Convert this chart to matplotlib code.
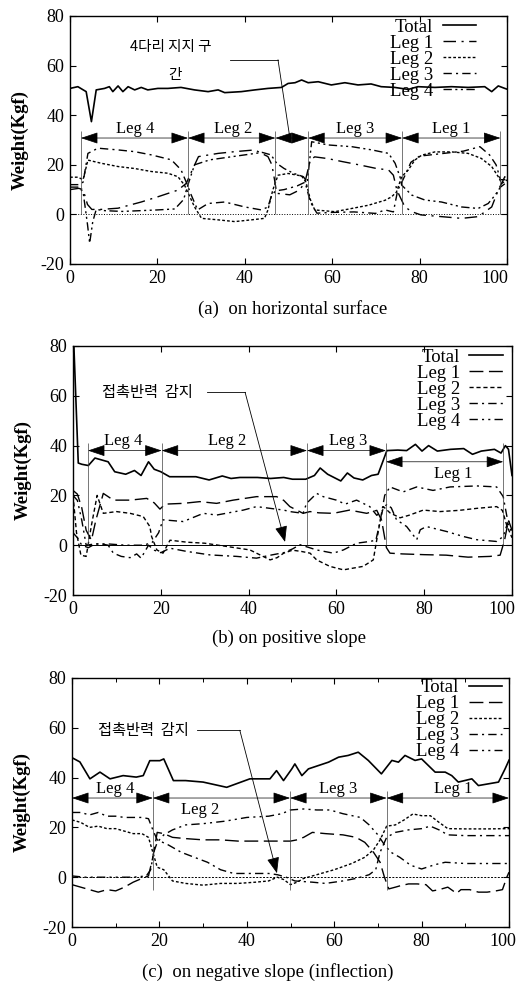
import matplotlib
matplotlib.use('Agg')
import matplotlib.pyplot as plt
from matplotlib.ticker import MultipleLocator
from matplotlib.transforms import ScaledTranslation

plt.rcParams['font.family'] = ['Liberation Serif', 'DejaVu Serif']
plt.rcParams['axes.unicode_minus'] = False
KR = ['Noto Sans CJK KR', 'DejaVu Sans']

# ---------------- (a) on horizontal surface ----------------
a_total_x = [0, 1.8, 3.7, 4.9, 6, 7.9, 9, 9.8, 11, 12.1, 13.3, 14.8, 16.3, 17.8, 20.1, 22.4, 25.4, 28.5,
             31.6, 33.9, 35.4, 39.2, 42.3, 45.3, 48.4, 49.9, 51.5, 53, 54.5, 56.8, 59.8, 62.9, 65.9,
             68.9, 71.2, 74.3, 77.4, 79.6, 83.5, 87.3, 91.1, 94.9, 96.5, 98, 99.5, 100]
a_total_y = [50.8, 51.5, 49.5, 37.4, 50.2, 50.8, 51.5, 49.5, 51.8, 49.5, 51.5, 50.2, 51.2, 50.2, 50.8,
             50.8, 51.2, 50.2, 49.5, 50.2, 49.1, 49.5, 50.2, 50.8, 51.2, 52.8, 53.1, 54.2, 53.1, 53.5,
             52.2, 53.1, 52.2, 52.6, 51.5, 51.2, 50.4, 51.5, 51.2, 51.5, 51.2, 51.5, 49.5, 51.8, 50.8, 50.5]
a_leg1_x = [0, 2, 3, 4, 5, 7, 11, 16.3, 20.1, 24.7, 26.6, 28, 29.4, 33.9, 37.7, 42.3, 45.3, 46.2, 46.8,
            47.3, 50.3, 52.6, 53.8, 55, 56, 59, 62.3, 66.1, 69.9, 72.9, 74, 74.8, 76.6, 78.2, 80.3, 85,
            89.6, 93.4, 96.5, 98, 99.5, 100]
a_leg1_y = [10, 10.5, 10, 4, 2, 2, 2.5, 5, 7.1, 9.8, 12.5, 18, 23.3, 24.6, 25.3, 26, 23.3, 20, 14, 8.5,
            7.9, 9.9, 13.2, 22, 23.2, 22.5, 21.3, 20, 18.6, 17.9, 15.8, 9.8, 3.1, 1.1, -0.2, -0.9, -1.6,
            -0.9, 3, 9.8, 15.2, 13]
a_leg2_x = [0, 1.8, 3, 4.1, 7.2, 11, 14.8, 18.6, 22.4, 24.7, 26.2, 28.5, 30.1, 33.9, 37.7, 41.5, 44.5,
            45.3, 46.4, 47.6, 49.9, 53, 54, 55, 56, 60.6, 64.5, 68.3, 72.1, 73.6, 74.7, 75.9, 77.4, 78.9,
            80.5, 83.5, 87.3, 91.1, 94.1, 96.5, 98, 98.8, 100]
a_leg2_y = [15, 15, 14, 21.9, 20.6, 19.3, 18.5, 17.3, 16.6, 15.2, 11.8, 3, -1.6, -2.2, -2.9, -2.2, -1.6,
            1.8, 9.8, 15.8, 16.5, 15.5, 13, 6, 1.8, 1.1, 2.4, 3.7, 5.7, 7.1, 9, 15.2, 17.9, 21.9, 23.9,
            25.2, 25.2, 24.6, 22.6, 19.3, 15.2, 12.5, 13.9]
a_leg3_x = [0, 2, 3, 4.1, 6.4, 11, 14.8, 18.6, 23.2, 25.4, 26.6, 27.7, 29.2, 31.6, 35.4, 40, 43.8, 45.3,
            46, 47, 49, 52, 53.8, 55, 56.5, 60, 65, 69.9, 72.1, 74, 75, 75.8, 77, 78, 80, 85, 90, 93.8,
            96, 97.5, 98.5, 100]
a_leg3_y = [12, 12, 13, 24.6, 26.7, 26, 25.3, 24, 22, 18, 13, 8, 1.8, 4.4, 5, 3, 1.8, 3, 7, 9.5, 10,
            11.5, 13, 5, 0.5, 0.8, 1, 0.4, 1.8, 1, 9.8, 12.5, 17, 21, 23.5, 24.5, 25.5, 27.3, 24, 20, 14, 14]
a_leg4_x = [0, 2, 3, 4, 4.5, 5.2, 6, 8, 12, 16, 20, 24, 26, 27, 28.5, 32, 36, 40, 44, 46, 47.3, 49, 51.1,
            53.4, 54.3, 55.3, 59.1, 64.5, 69.1, 72.9, 74.4, 75.5, 75.9, 78.2, 81.2, 85, 89.6, 93.4, 95.7,
            97.3, 98.5, 100]
a_leg4_y = [11, 11, 9, -4, -11.6, -3, 2, 1.5, 1.2, 1.5, 1.8, 2.2, 6, 12, 20, 22, 23, 24, 25, 24, 20.6,
            18.5, 16.6, 15.2, 13, 29.3, 28, 27.3, 26, 24.6, 20.6, 15.2, 11.8, 7.8, 5.8, 5, 3, 2.4, 4.4,
            7.8, 11, 13]
a_bounds = [2.5, 27, 47, 54.5, 76, 98.5]
a_seg_labels = ['Leg 4', 'Leg 2', '', 'Leg 3', 'Leg 1']
a_seg_y = [30.8, 30.8, 30.8, 30.8, 30.8]
a_label_x = [14.9, 37.4, 50.7, 65.2, 87.3]
a_label_side = ['above', 'above', 'above', 'above', 'above']

# ---------------- (b) on positive slope ----------------
b_total_x = [0.2, 1.2, 2, 3.5, 5, 7, 8, 9.5, 12, 14, 15.5, 17.2, 18.5, 20, 22, 25, 28, 31, 34, 36, 38,
             42, 45, 48, 50, 53, 55, 56.3, 58, 61, 62.5, 64, 66, 68, 69.5, 71.5, 74, 76, 78, 79.5, 81,
             83, 86, 89, 91, 93, 96, 97.5, 98.5, 99.2, 100]
b_total_y = [80, 33, 32.5, 32, 35, 34, 33.5, 29.5, 28.5, 30, 28, 33.5, 30.5, 29.5, 27.5, 27.5, 27.5,
             26.2, 27.8, 26.8, 27.2, 27.2, 26.8, 27.2, 26.5, 26.5, 28, 31, 28.5, 25.8, 29, 27, 26.2, 28,
             28.5, 38, 38.2, 38, 40.5, 37.8, 40, 37.8, 38.5, 38.8, 36.5, 37.8, 38.5, 37, 40, 38.5, 28]
b_leg1_x = [0, 1, 2, 3, 4.2, 5.2, 6.9, 9.2, 13, 16.8, 18.5, 19.8, 21, 25.1, 28.9, 32.7, 36.5, 41.8, 46.4,
            48, 49.4, 52.4, 54, 56, 59.3, 63, 66.9, 69.2, 70.3, 71.4, 72.2, 75, 80, 85, 90, 95, 97.3,
            98.3, 99.2, 100]
b_leg1_y = [22, 20.5, 15, 6, 2, 10, 20.8, 18.1, 18.1, 18.8, 17, 14.5, 16.5, 16.8, 17.5, 16.8, 18.1,
            19.5, 19.5, 18, 15.5, 12.8, 13.5, 13, 12.8, 14.1, 12.8, 14, 10, -1, -3.2, -3.5, -3.8, -4,
            -4.8, -4.5, -4, 2, 10, 6]
b_leg2_x = [0, 0.8, 1.8, 3, 4.2, 5.5, 6.9, 9.9, 13, 16, 17.5, 17.9, 19.1, 20.5, 22.1, 26, 30, 35, 40.3,
            43.3, 44.9, 46.5, 48, 50, 52, 54, 55.5, 58.5, 61.6, 66.1, 68.4, 69.2, 70, 70.7, 72.2, 74.5,
            76.5, 79.8, 83.6, 88, 92, 96.5, 97.8, 98.8, 100]
b_leg2_y = [20, 5, -4, -4.5, 8, 20, 12.8, 13.5, 12.8, 11.5, 7.5, 3.5, -1.9, -3.2, 2.0, 1.2, 0.8, -0.5,
            -1.9, -4.5, -5.9, -5, -3.2, -2, -2.5, -3.2, -5.9, -8.5, -9.9, -8.5, -5.9, 2.2, 10, 15.5,
            13, 11, 12, 14.1, 13.5, 14, 14.8, 15.5, 14, 8, 3]
b_leg3_x = [0, 1, 2, 3.5, 5, 6.5, 8, 9.2, 11, 13, 14.5, 15.5, 17.2, 18.5, 20, 22.1, 25.9, 31.2, 37.3,
            41.8, 45, 48, 50, 51.7, 55.5, 59.3, 61.6, 64.6, 67.6, 69, 70, 71, 72.2, 75.2, 78.3, 82,
            85.9, 92, 96.5, 98, 99, 100]
b_leg3_y = [5, 3, 0, -1, 0.5, 0.5, 0, -3.2, -4.5, -5, -3.5, -5.2, 0, -2, -3, -1.2, -2.5, -3.9, -4.5,
            -5.2, -4, -3, -1.5, 0.2, -1.9, -3.2, -1.9, 0.8, 1.5, 2, 10, 20, 23.4, 21.4, 23.4, 22, 23.4,
            23.8, 23.4, 19.5, 10, 8]
b_leg4_x = [0, 1, 2, 3, 5, 8, 12, 16, 18, 19.5, 20.5, 25.1, 29.7, 32.7, 38.8, 41.8, 44.9, 48, 49.4,
            52.4, 53.2, 55.5, 57, 60, 62, 64.6, 67.6, 69.2, 70.5, 71.5, 72.5, 73.7, 76, 78.3, 79.1,
            80.5, 85.1, 88.9, 92, 96.5, 98, 99, 100]
b_leg4_y = [20, 18, 10, 0, 0.5, 0.5, 0, 0, 1, 5, 10.2, 9.5, 12.8, 12.1, 14.1, 15.5, 14.8, 14.1, 13.5,
            12.8, 16.8, 20.8, 19.5, 18.1, 16.5, 18.1, 15.5, 12, 14, 16.5, 15, 10.2, 7.5, 2.2, 6.2, 7.5,
            5.5, 3.5, 2.2, 1.5, 3.5, 9, 5]
b_bounds = [3.4, 20.2, 53.3, 71.3, 98]
b_seg_labels = ['Leg 4', 'Leg 2', 'Leg 3', 'Leg 1']
b_seg_y = [38, 38, 38, 33.5]
b_label_x = [11.4, 35.1, 62.7, 86.6]
b_label_side = ['above', 'above', 'above', 'below']

# ---------------- (c) on negative slope (inflection) ----------------
c_total_x = [0, 1.8, 4.1, 6.4, 8.7, 11.7, 14.7, 16.3, 17.8, 20.1, 21, 23.2, 26, 30, 35.4, 40.7, 45.3,
             46.8, 48.4, 50.3, 51, 52.6, 54.1, 58.7, 61, 63.2, 65.5, 67.8, 70.8, 73.2, 74.7, 76.2,
             78.5, 80, 83.1, 85.4, 86.9, 88.4, 91.5, 93, 97.6, 99.1, 100]
c_total_y = [48, 46.3, 39.5, 42.2, 39.5, 40.8, 40.2, 40.8, 46.8, 46.8, 47.5, 38.8, 38.8, 38.2, 36.1,
             39.5, 39.5, 42.8, 38.8, 43.5, 45.5, 40.8, 43.5, 46.2, 48.2, 48.9, 50.2, 46.9, 41.5, 46.9,
             46.2, 48.9, 46.9, 47.5, 42.2, 42.2, 40.8, 38.2, 39.5, 36.8, 38.2, 43.5, 47]
c_leg1_x = [0, 2, 4, 6, 8, 10, 12, 14, 16, 17.5, 18.5, 19.5, 21, 23, 26, 30, 34, 38, 42, 46, 50, 51.5,
            53, 55, 58, 62, 65, 67, 69, 70.5, 71.5, 72.5, 74, 75, 77, 79, 81, 82.5, 84, 86, 88, 89,
            91, 93, 95, 97, 98.5, 99.5, 100]
c_leg1_y = [-3, -4, -5, -6, -5, -5.5, -4, -2, -0.5, 0.5, 8, 18, 17.5, 16, 15.5, 15, 15, 14.5, 14.5,
            14.5, 14.5, 15, 16, 18, 17.5, 17, 16, 14, 10, 6, 0, -4.7, -4, -3.5, -2.7, -2.7, -3, -5.5,
            -5, -4, -6.5, -5, -5, -6, -6, -5.5, -5, 0, 2]
c_leg2_x = [0, 2, 4, 6, 8, 10, 12, 14, 16, 17.5, 18.5, 19.5, 21, 23, 26, 30, 34, 38, 42, 45, 47, 48.5,
            50, 51.5, 53, 56, 60, 64, 67, 69, 70.5, 72, 74, 76, 78, 80, 82, 84, 86, 90, 95, 100]
c_leg2_y = [23, 22, 20, 20.5, 19.5, 19.5, 18.5, 17.5, 17.5, 16, 10, 4, 3, -1.5, -2.5, -3.2, -2.5,
            -2.5, -2, -1.5, 0, -1, -3, -2, -0.5, 1, 3, 5.5, 8, 11, 15, 20.5, 21, 23, 25.4, 24.7, 24.7,
            22, 19.5, 19.4, 19.4, 19.5]
c_leg3_x = [0, 2, 4, 6, 8, 10, 12, 14, 16, 17.5, 18.5, 19.5, 22, 25, 28, 31, 34, 37, 40, 45, 47, 49,
            51, 55, 58, 62, 65, 68, 69.5, 70.5, 72, 74, 77, 80, 82, 84, 86, 90, 95, 100]
c_leg3_y = [26, 26, 25, 26, 24.5, 24.5, 24, 24, 24, 23.5, 19, 15, 13, 10, 8, 6, 3, 1.5, 1.5, 1.5, 1,
            0, -1.5, -2, -2.5, -1.5, -0.5, 1, 3, 10, 16, 18, 19, 19.5, 20.5, 19, 17, 16.7, 16.7, 16.7]
c_leg4_x = [0, 3, 6, 10, 14, 17, 18, 18.7, 19.5, 21, 23, 26, 30, 35, 40, 45, 48, 50, 53, 56, 59, 62,
            66, 68, 70, 71.5, 73, 75, 77.5, 80, 83, 85.4, 90, 95, 100]
c_leg4_y = [0.5, 0, 0, 0, 0, 0.5, 3, 10, 14, 17, 19, 21, 21.5, 22.5, 24, 24.5, 25.5, 27, 27.4, 27, 27,
            25.5, 24, 21, 17, 13, 10, 8, 4.8, 3.3, 5, 6, 5.5, 5.5, 5.5]
c_bounds = [0, 18.5, 49.9, 72, 100]
c_seg_labels = ['Leg 4', 'Leg 2', 'Leg 3', 'Leg 1']
c_seg_y = [31.8, 31.8, 31.8, 31.8]
c_label_x = [9.8, 29.3, 61, 87.3]
c_label_side = ['above', 'below', 'above', 'above']

names = ['Total', 'Leg 1', 'Leg 2', 'Leg 3', 'Leg 4']
x_ticks = [0, 20, 40, 60, 80, 100]
y_ticks = [-20, 0, 20, 40, 60, 80]

styles_a = ['-', (0, (9, 4, 1.5, 4)), (0, (2, 1.5)), (0, (6, 3, 1.5, 3)), (0, (6, 2.5, 1.5, 2.5, 1.5, 2.5))]
styles_b = ['-', (0, (10, 4)), (0, (3, 2)), (0, (6, 3, 1.5, 3)), (0, (6, 3, 1.5, 3, 1.5, 3))]
styles_c = ['-', (0, (10, 4)), (0, (2, 1.5)), (0, (6, 3, 1.5, 3)), (0, (6, 3, 1.5, 3, 1.5, 3))]

fig = plt.figure(figsize=(5.19, 9.82), dpi=100)
ax_a = fig.add_axes([70/519, 1-264/982, 437/519, 248/982])
ax_b = fig.add_axes([73/519, 1-595/982, 439/519, 249/982])
ax_c = fig.add_axes([72/519, 1-927/982, 437/519, 249/982])

ARROW = dict(arrowstyle='<|-|>,head_length=0.9,head_width=0.3', mutation_scale=12,
             lw=0.5, color='k', shrinkA=0, shrinkB=0)


def setup(ax, zero_style):
    ax.set_xlim(0, 100)
    ax.set_ylim(-20, 80)
    ax.set_xticks(x_ticks)
    ax.set_yticks(y_ticks)
    ax.tick_params(direction='in', top=True, right=True, length=4, width=0.8,
                   labelsize=13, pad=4)
    for s in ax.spines.values():
        s.set_linewidth(1.0)
    ax.axhline(0, color='k', lw=0.7, ls=zero_style, zorder=1)
    ax.set_ylabel('Weight(Kgf)', fontsize=13.5, fontweight='bold')
    ax.yaxis.set_label_coords(-0.095, 0.5)


def draw_series(ax, xs, ys, styles, anchor):
    handles = []
    for x, y, st, nm in zip(xs, ys, styles, names):
        h, = ax.plot(x, y, color='k', lw=1.0 if nm != 'Total' else 1.2, ls=st, label=nm)
        handles.append(h)
    ax.legend(handles=handles, loc='upper right', bbox_to_anchor=anchor, frameon=False,
              markerfirst=False, handlelength=1.8, handletextpad=0.5, labelspacing=-0.06,
              borderpad=0, borderaxespad=0, fontsize=13.5)


def draw_bands(ax, bounds, ys, labels, lx, side, vlo):
    for i in range(len(bounds) - 1):
        ax.annotate('', xy=(bounds[i+1], ys[i]), xytext=(bounds[i], ys[i]), arrowprops=ARROW)
        if labels[i]:
            if side[i] == 'above':
                ax.text(lx[i], ys[i] + 0.6, labels[i], ha='center', va='bottom', fontsize=12)
            else:
                ax.text(lx[i], ys[i] - 1.5, labels[i], ha='center', va='top', fontsize=12)
    ax.vlines(bounds, vlo, max(ys) + 3, colors='0.25', lw=0.5)


def leader(ax, px, py, head):
    ax.plot(px[:2], [py[0], py[0]], color='k', lw=0.6)
    if head:
        ax.annotate('', xy=(px[2], py[1]), xytext=(px[1], py[0]),
                    arrowprops=dict(arrowstyle='-|>,head_length=0.9,head_width=0.35',
                                    mutation_scale=11, lw=0.6, color='k', shrinkA=0, shrinkB=0))
    else:
        ax.plot(px[1:], [py[0], py[1]], color='k', lw=0.6)


# panel (a)
setup(ax_a, ':')
draw_series(ax_a, [a_total_x, a_leg1_x, a_leg2_x, a_leg3_x, a_leg4_x],
            [a_total_y, a_leg1_y, a_leg2_y, a_leg3_y, a_leg4_y], styles_a, (0.93, 0.99))
draw_bands(ax_a, a_bounds, a_seg_y, a_seg_labels, a_label_x, a_label_side, 0)
ax_a.text(23.1, 67.6, '4다리 지지 구', family=KR, fontsize=10.5, ha='center', va='center')
ax_a.text(24.0, 56.2, '간', family=KR, fontsize=10.5, ha='center', va='center')
leader(ax_a, [36.6, 47.6, 50.3], [62.3, 31], False)
ax_a.text(0.51, -0.18, '(a)  on horizontal surface', transform=ax_a.transAxes,
          ha='center', va='center', fontsize=13.5)

# panel (b)
setup(ax_b, '-')
draw_series(ax_b, [b_total_x, b_leg1_x, b_leg2_x, b_leg3_x, b_leg4_x],
            [b_total_y, b_leg1_y, b_leg2_y, b_leg3_y, b_leg4_y], styles_b, (0.98, 0.99))
draw_bands(ax_b, b_bounds, b_seg_y, b_seg_labels, b_label_x, b_label_side, 0)
ax_b.text(16.9, 61.3, '접촉반력  감지', family=KR, fontsize=11, ha='center', va='center')
leader(ax_b, [30.5, 39.2, 48.3], [61.4, 1.3], True)
ax_b.text(0.492, -0.173, '(b) on positive slope', transform=ax_b.transAxes,
          ha='center', va='center', fontsize=13.5)

# panel (c)
setup(ax_c, (0, (2, 1.5)))
ax_c.xaxis.set_minor_locator(MultipleLocator(10))
ax_c.tick_params(which='minor', direction='in', top=True, length=3, width=0.7)
draw_series(ax_c, [c_total_x, c_leg1_x, c_leg2_x, c_leg3_x, c_leg4_x],
            [c_total_y, c_leg1_y, c_leg2_y, c_leg3_y, c_leg4_y], styles_c, (0.985, 0.995))
draw_bands(ax_c, c_bounds, c_seg_y, c_seg_labels, c_label_x, c_label_side, -5)
ax_c.text(16.3, 59, '접촉반력  감지', family=KR, fontsize=11, ha='center', va='center')
leader(ax_c, [28.6, 38.4, 46.9], [59, 1.6], True)
ax_c.text(0.449, -0.18, '(c)  on negative slope (inflection)', transform=ax_c.transAxes,
          ha='center', va='center', fontsize=13.5)

# the "100" labels sit pulled in so they stay on the page
fig.canvas.draw()
for ax, dx in [(ax_a, 1), (ax_b, 3), (ax_c, 7)]:
    lab = ax.xaxis.get_major_ticks()[-1].label1
    lab.set_horizontalalignment('right')
    lab.set_transform(lab.get_transform() + ScaledTranslation(dx / 100, 0, fig.dpi_scale_trans))

fig.savefig('out.png', dpi=100)
